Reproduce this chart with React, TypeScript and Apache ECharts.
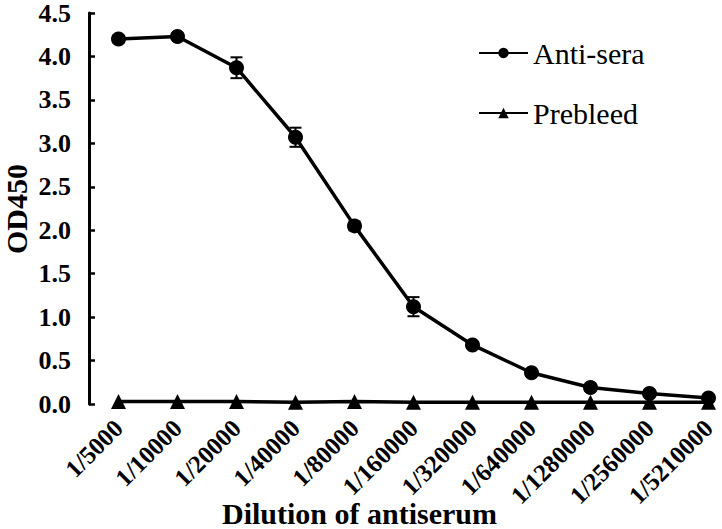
import React, { useEffect, useRef } from "react";
import * as echarts from "echarts";

const categories = [
  "1/5000", "1/10000", "1/20000", "1/40000", "1/80000", "1/160000",
  "1/320000", "1/640000", "1/1280000", "1/2560000", "1/5210000",
];
const antiSera = [4.2, 4.23, 3.87, 3.07, 2.05, 1.12, 0.68, 0.36, 0.19, 0.12, 0.07];
const antiSeraErr = [0.04, 0.03, 0.12, 0.11, 0.05, 0.11, 0.03, 0.02, 0.02, 0.02, 0.02];
const prebleed = [0.03, 0.03, 0.03, 0.02, 0.03, 0.02, 0.02, 0.02, 0.02, 0.02, 0.02];
const yTicks = { min: 0, max: 4.5, interval: 0.5 };

const FONT = "'Liberation Serif', 'Times New Roman', serif";

export default function App() {
  const ref = useRef<HTMLDivElement>(null);
  useEffect(() => {
    if (!ref.current) return;
    const chart = echarts.init(ref.current, undefined, { renderer: "svg" });
    const errData = antiSera.map((v, i) => [i, v - antiSeraErr[i], v + antiSeraErr[i]]);
    chart.setOption({
      animation: false,
      backgroundColor: "#ffffff",
      grid: {
        left: 89,
        right: 0,
        top: 13,
        bottom: 125,
        containLabel: false,
        outerBoundsMode: "none",
      },
      legend: {
        orient: "vertical",
        left: 473,
        top: 33,
        itemWidth: 49,
        itemHeight: 13,
        itemGap: 30,
        data: ["Anti-sera", "Prebleed"],
        textStyle: { fontFamily: FONT, fontSize: 30, color: "#000", lineHeight: 30 },
      },
      xAxis: {
        type: "category",
        data: categories,
        boundaryGap: true,
        axisLine: { show: false },
        axisTick: { show: false },
        axisLabel: {
          rotate: 45,
          interval: 0,
          margin: 20,
          fontFamily: FONT,
          fontWeight: "bold",
          fontSize: 25,
          color: "#000",
        },
        splitLine: { show: false },
      },
      yAxis: {
        type: "value",
        min: yTicks.min,
        max: yTicks.max,
        interval: yTicks.interval,
        axisLine: { show: true, lineStyle: { color: "#000", width: 3 } },
        axisTick: { show: true, inside: true, length: 6, lineStyle: { color: "#000", width: 2.5 } },
        axisLabel: {
          margin: 18,
          fontFamily: FONT,
          fontWeight: "bold",
          fontSize: 26,
          color: "#000",
          formatter: (v: number) => v.toFixed(1),
        },
        splitLine: { show: false },
      },
      graphic: [
        {
          type: "text",
          left: 222,
          top: 498,
          style: {
            text: "Dilution of antiserum",
            font: `bold 30px ${FONT}`,
            fill: "#000",
          },
        },
        {
          type: "text",
          x: 16,
          y: 209,
          rotation: Math.PI / 2,
          style: {
            text: "OD450",
            font: `bold 30px ${FONT}`,
            fill: "#000",
            align: "center",
            verticalAlign: "middle",
          },
        },
      ],
      series: [
        {
          name: "Prebleed",
          type: "line",
          data: prebleed,
          symbol: "triangle",
          symbolSize: 15,
          itemStyle: { color: "#000" },
          lineStyle: { color: "#000", width: 3.5 },
          z: 2,
        },
        {
          name: "Anti-sera",
          type: "line",
          data: antiSera,
          symbol: "circle",
          symbolSize: 15,
          itemStyle: { color: "#000" },
          lineStyle: { color: "#000", width: 3.5 },
          z: 3,
        },
        {
          name: "err",
          type: "custom",
          data: errData,
          z: 4,
          renderItem: (params: any, api: any) => {
            const x = api.value(0);
            const lo = api.coord([x, api.value(1)]);
            const hi = api.coord([x, api.value(2)]);
            const w = 6;
            const style = { stroke: "#000", lineWidth: 2 };
            return {
              type: "group",
              children: [
                { type: "line", shape: { x1: lo[0], y1: lo[1], x2: hi[0], y2: hi[1] }, style },
                { type: "line", shape: { x1: lo[0] - w, y1: lo[1], x2: lo[0] + w, y2: lo[1] }, style },
                { type: "line", shape: { x1: hi[0] - w, y1: hi[1], x2: hi[0] + w, y2: hi[1] }, style },
              ],
            };
          },
        },
      ],
    });
    return () => chart.dispose();
  }, []);
  return (
    <div
      style={{
        position: "fixed",
        left: 0,
        top: 0,
        width: 722,
        height: 529,
        overflow: "hidden",
        background: "#fff",
      }}
    >
      <div ref={ref} style={{ width: 738, height: 529 }} />
    </div>
  );
}
